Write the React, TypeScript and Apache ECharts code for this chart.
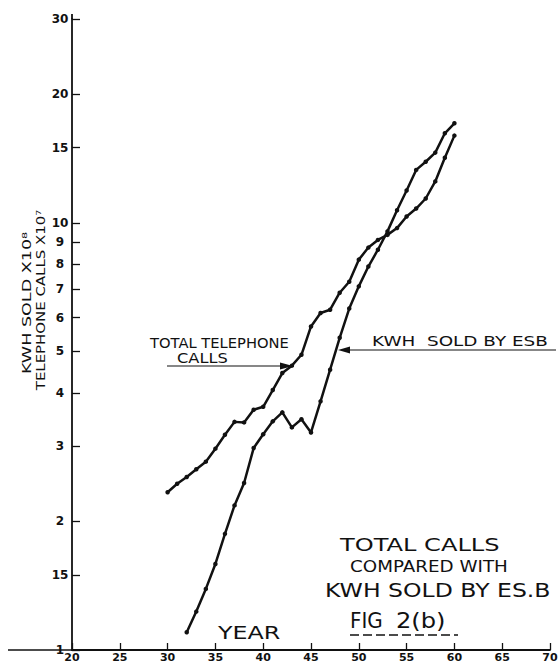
import React, { useEffect, useRef } from "react";
import * as echarts from "echarts";

// ---- data (years as two-digit 19xx, values on log scale) ----
const tcYears = [30, 31, 32, 33, 34, 35, 36, 37, 38, 39, 40, 41, 42, 43, 44, 45, 46, 47, 48, 49, 50, 51, 52, 53, 54, 55, 56, 57, 58, 59, 60];
const tcValues = [2.34, 2.45, 2.54, 2.65, 2.76, 2.96, 3.19, 3.42, 3.41, 3.65, 3.71, 4.06, 4.45, 4.63, 4.91, 5.72, 6.15, 6.26, 6.86, 7.28, 8.2, 8.75, 9.12, 9.37, 9.72, 10.35, 10.8, 11.4, 12.5, 14.2, 16.0];

const kwhYears = [32, 33, 34, 35, 36, 37, 38, 39, 40, 41, 42, 43, 44, 45, 46, 47, 48, 49, 50, 51, 52, 53, 54, 55, 56, 57, 58, 59, 60];
const kwhValues = [1.1, 1.23, 1.39, 1.59, 1.87, 2.18, 2.46, 2.97, 3.2, 3.43, 3.6, 3.32, 3.47, 3.23, 3.82, 4.53, 5.38, 6.3, 7.1, 7.9, 8.65, 9.55, 10.7, 11.9, 13.3, 13.9, 14.6, 16.2, 17.1];

const yTickValues = [1, 1.5, 2, 3, 4, 5, 6, 7, 8, 9, 10, 15, 20, 30];
const yTickLabels = ["1", "15", "2", "3", "4", "5", "6", "7", "8", "9", "10", "15", "20", "30"];

const FONT = "DejaVu Sans";
const INK = "#111";

function txt(text: string, x: number, y: number, size: number, opts: any = {}) {
  return {
    type: "text",
    x,
    y,
    scaleX: opts.scaleX ?? 1,
    rotation: opts.rotation ?? 0,
    style: {
      text,
      fontSize: size,
      fontFamily: FONT,
      fontWeight: opts.weight ?? "normal",
      fill: INK,
      align: opts.align ?? "left",
      verticalAlign: "middle",
    },
  };
}

export default function App() {
  const ref = useRef<HTMLDivElement>(null);
  useEffect(() => {
    if (!ref.current) return;
    const chart = echarts.init(ref.current, null, { renderer: "svg" });
    const logTicks = yTickValues.map((v) => Math.log10(v));
    const option: any = {
      animation: false,
      backgroundColor: "#fff",
      grid: { left: 72, right: 9, top: 19, bottom: 14, containLabel: false, outerBoundsMode: "none" },
      xAxis: {
        type: "value",
        min: 20,
        max: 70,
        interval: 5,
        axisLine: { show: true, onZero: false, lineStyle: { color: INK, width: 1.8 } },
        axisTick: { show: true, inside: true, length: 7, lineStyle: { color: INK, width: 1.3 } },
        axisLabel: { color: INK, fontSize: 11, fontFamily: FONT, fontWeight: "bold", margin: 2 },
        splitLine: { show: false },
      },
      yAxis: {
        type: "value",
        min: 0,
        max: Math.log10(30),
        axisLine: { show: true, onZero: false, lineStyle: { color: INK, width: 1.8 } },
        axisTick: {
          show: true,
          inside: true,
          length: 8,
          customValues: logTicks,
          lineStyle: { color: INK, width: 1.3 },
        },
        axisLabel: {
          show: true,
          customValues: logTicks,
          color: INK,
          fontSize: 12,
          fontFamily: FONT,
          fontWeight: "bold",
          align: "center",
          margin: 12,
          formatter: (v: number) => {
            const i = logTicks.findIndex((t) => Math.abs(t - v) < 1e-6);
            return i >= 0 ? yTickLabels[i] : "";
          },
        },
        splitLine: { show: false },
      },
      series: [
        {
          name: "TOTAL TELEPHONE CALLS",
          type: "line",
          data: tcYears.map((y, i) => [y, Math.log10(tcValues[i])]),
          symbol: "circle",
          symbolSize: 4.5,
          showSymbol: true,
          lineStyle: { color: INK, width: 2.5 },
          itemStyle: { color: INK },
        },
        {
          name: "KWH SOLD BY ESB",
          type: "line",
          data: kwhYears.map((y, i) => [y, Math.log10(kwhValues[i])]),
          symbol: "circle",
          symbolSize: 4.5,
          showSymbol: true,
          lineStyle: { color: INK, width: 2.5 },
          itemStyle: { color: INK },
        },
      ],
      graphic: [
        // x-axis line extension left of the y axis
        { type: "line", shape: { x1: 8, y1: 650, x2: 72, y2: 650 }, style: { stroke: INK, lineWidth: 1.6 } },
        { type: "line", shape: { x1: 72, y1: 14, x2: 72, y2: 19 }, style: { stroke: INK, lineWidth: 1.8 } },
        // y axis titles
        txt("KWH SOLD X10⁸", 27, 303, 13, { rotation: Math.PI / 2, align: "center", scaleX: 1.35 }),
        txt("TELEPHONE CALLS X10⁷", 40, 300, 13, { rotation: Math.PI / 2, align: "center", scaleX: 1.15 }),
        // telephone annotation
        txt("TOTAL TELEPHONE", 150, 343, 13.5, { scaleX: 1.09 }),
        txt("CALLS", 177, 358, 13.5, { scaleX: 1.2 }),
        { type: "line", shape: { x1: 167, y1: 366, x2: 284, y2: 366 }, style: { stroke: INK, lineWidth: 1.2 } },
        { type: "polygon", shape: { points: [[293, 366], [280, 362.5], [280, 369.5]] }, style: { fill: INK } },
        // kwh annotation
        txt("KWH  SOLD BY ESB", 372, 341, 13.5, { scaleX: 1.36 }),
        { type: "line", shape: { x1: 346, y1: 350, x2: 556, y2: 350 }, style: { stroke: INK, lineWidth: 1.2 } },
        { type: "polygon", shape: { points: [[338, 350], [350, 346.5], [350, 353.5]] }, style: { fill: INK } },
        // title block
        txt("TOTAL CALLS", 340, 545, 18, { scaleX: 1.34 }),
        txt("COMPARED WITH", 350, 567, 15, { scaleX: 1.22 }),
        txt("KWH SOLD BY ES.B", 325, 590, 19, { scaleX: 1.24 }),
        txt("FIG", 350, 621, 21, { scaleX: 0.95 }),
        txt("2(b)", 396, 621, 21, { scaleX: 1.15 }),
        {
          type: "line",
          shape: { x1: 350, y1: 635, x2: 458, y2: 635 },
          style: { stroke: INK, lineWidth: 1.6, lineDash: [9, 4] },
        },
        txt("YEAR", 218, 633, 17, { scaleX: 1.4 }),
      ],
    };
    chart.setOption(option);
    return () => chart.dispose();
  }, []);
  return (
    <div
      ref={ref}
      style={{ position: "fixed", left: 0, top: 0, width: 559, height: 664, background: "#fff" }}
    />
  );
}
